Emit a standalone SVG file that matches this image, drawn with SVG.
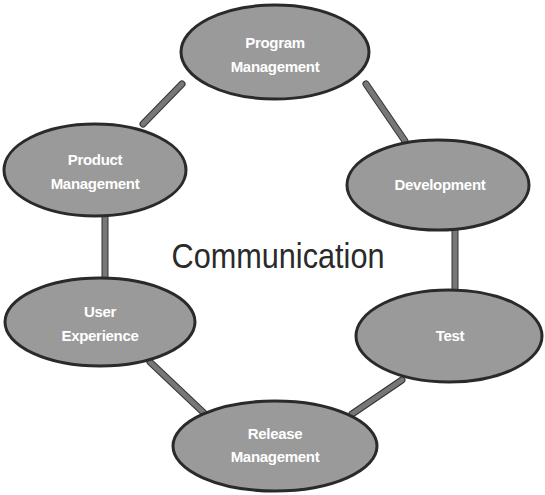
<svg xmlns="http://www.w3.org/2000/svg" width="545" height="495" viewBox="0 0 545 495">
<style>
.node ellipse{fill:#9a9a9a;stroke:#2a2a2a;stroke-width:3}
.node text{font-family:"Liberation Sans",Arial,sans-serif;font-size:15px;font-weight:bold;fill:#ffffff;text-anchor:middle;letter-spacing:-0.3px}
.conn line{stroke:#777;stroke-width:5;stroke-linecap:round}
.conn line.edge{stroke:#333;stroke-width:7}
.title{font-family:"Liberation Sans",Arial,sans-serif;font-size:35px;fill:#2a2a2a;text-anchor:middle}
</style>
<rect width="545" height="495" fill="#ffffff"/>
<g id="connectors" class="conn">
<line class="edge" x1="182" y1="84" x2="143" y2="124"/>
<line class="edge" x1="366" y1="84" x2="405" y2="141"/>
<line class="edge" x1="105" y1="215" x2="105" y2="280"/>
<line class="edge" x1="455" y1="228" x2="455" y2="292"/>
<line class="edge" x1="150" y1="362" x2="205" y2="414"/>
<line class="edge" x1="402" y1="380" x2="352" y2="414"/>
<line x1="182" y1="84" x2="143" y2="124"/>
<line x1="366" y1="84" x2="405" y2="141"/>
<line x1="105" y1="215" x2="105" y2="280"/>
<line x1="455" y1="228" x2="455" y2="292"/>
<line x1="150" y1="362" x2="205" y2="414"/>
<line x1="402" y1="380" x2="352" y2="414"/>
</g>
<g id="program-management" class="node">
<ellipse cx="275" cy="52" rx="94" ry="47"/>
<text x="275" y="48">Program</text>
<text x="275" y="72">Management</text>
</g>
<g id="product-management" class="node">
<ellipse cx="95" cy="170" rx="91" ry="46"/>
<text x="95" y="165">Product</text>
<text x="95" y="189">Management</text>
</g>
<g id="development" class="node">
<ellipse cx="438" cy="185" rx="91" ry="45"/>
<text x="440" y="190">Development</text>
</g>
<g id="user-experience" class="node">
<ellipse cx="100" cy="322" rx="95" ry="44"/>
<text x="100" y="317">User</text>
<text x="100" y="341">Experience</text>
</g>
<g id="test" class="node">
<ellipse cx="449" cy="336" rx="93" ry="46"/>
<text x="450" y="341">Test</text>
</g>
<g id="release-management" class="node">
<ellipse cx="275" cy="446" rx="102" ry="45"/>
<text x="275" y="439">Release</text>
<text x="275" y="462">Management</text>
</g>
<text class="title" x="278" y="268" textLength="213" lengthAdjust="spacingAndGlyphs">Communication</text>
</svg>
